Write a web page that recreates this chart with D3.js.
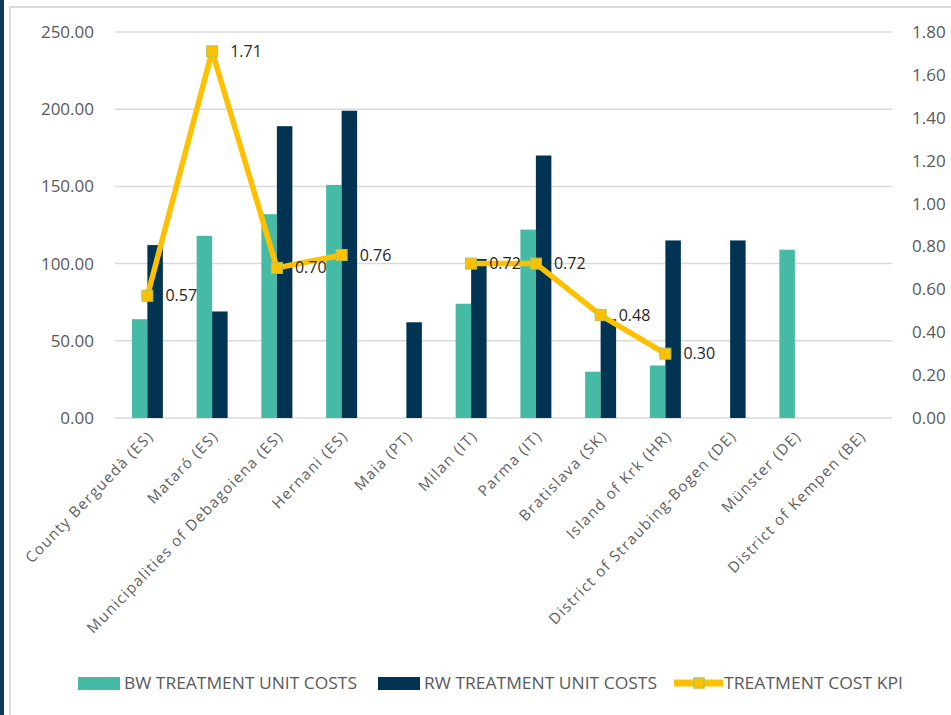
<!DOCTYPE html>
<html>
<head>
<meta charset="utf-8">
<script src="https://cdn.jsdelivr.net/npm/d3@7"></script>
<style>
  html, body { margin: 0; padding: 0; background: #fff; }
  svg { display: block; font-family: "Open Sans", sans-serif; }
</style>
</head>
<body>
<div id="chart"></div>
<script>
// data
const categories = [
  "County Berguedà (ES)", "Mataró (ES)", "Municipalities of Debagoiena (ES)",
  "Hernani (ES)", "Maia (PT)", "Milan (IT)", "Parma (IT)", "Bratislava (SK)",
  "Island of Krk (HR)", "District of Straubing-Bogen (DE)", "Münster (DE)",
  "District of Kempen (BE)"
];
const bwCosts = [64, 118, 132, 151, null, 74, 122, 30, 34, null, 109, null];
const rwCosts = [112, 69, 189, 199, 62, 103, 170, 64, 115, 115, null, null];
const kpi = [0.57, 1.71, 0.70, 0.76, null, 0.72, 0.72, 0.48, 0.30, null, null, null];
const leftTicks = [0, 50, 100, 150, 200, 250];
const rightTicks = [0, 0.2, 0.4, 0.6, 0.8, 1.0, 1.2, 1.4, 1.6, 1.8];
const seriesNames = ["BW TREATMENT UNIT COSTS", "RW TREATMENT UNIT COSTS", "TREATMENT COST KPI"];

const W = 951, H = 715;
const colBW = "#45bba5", colRW = "#003452", colKPI = "#ffc000";

const svg = d3.select("#chart").append("svg")
  .attr("width", W).attr("height", H);

// frame
svg.append("rect").attr("x", 0).attr("y", 0).attr("width", 4).attr("height", H).attr("fill", "#0b3a5a");
svg.append("rect").attr("x", 10).attr("y", 7).attr("width", W).attr("height", H)
  .attr("fill", "#fff").attr("stroke", "#dcdcdc").attr("stroke-width", 2);

const x = d3.scaleBand().domain(categories).range([115, 892]);
const inner = d3.scaleBand().domain(["bw", "rw"]).range([0, 31]);
const yL = d3.scaleLinear().domain([0, 250]).range([418, 32]);
const yR = d3.scaleLinear().domain([0, 1.8]).range([418, 32]);
const off = (x.bandwidth() - 31) / 2;

// gridlines
svg.append("g").selectAll("line").data(leftTicks).join("line")
  .attr("x1", 115).attr("x2", 892)
  .attr("y1", d => yL(d)).attr("y2", d => yL(d))
  .attr("stroke", "#d9d9d9").attr("stroke-width", 1.5);

// left axis labels
svg.append("g").selectAll("text").data(leftTicks).join("text")
  .attr("x", 94).attr("y", d => yL(d)).attr("dy", "0.35em")
  .attr("text-anchor", "end").attr("font-size", 17).attr("fill", "#595959")
  .text(d => d.toFixed(2));

// right axis labels
svg.append("g").selectAll("text").data(rightTicks).join("text")
  .attr("x", 912).attr("y", d => yR(d)).attr("dy", "0.35em")
  .attr("text-anchor", "start").attr("font-size", 17).attr("fill", "#595959")
  .text(d => d.toFixed(2));

// bars
const rows = categories.map((c, i) => ({ c, bw: bwCosts[i], rw: rwCosts[i], k: kpi[i] }));
const bars = svg.append("g");
bars.selectAll("rect.bw").data(rows.filter(d => d.bw != null)).join("rect")
  .attr("class", "bw")
  .attr("x", d => x(d.c) + off + inner("bw")).attr("width", inner.bandwidth())
  .attr("y", d => yL(d.bw)).attr("height", d => yL(0) - yL(d.bw))
  .attr("fill", colBW);
bars.selectAll("rect.rw").data(rows.filter(d => d.rw != null)).join("rect")
  .attr("class", "rw")
  .attr("x", d => x(d.c) + off + inner("rw")).attr("width", inner.bandwidth())
  .attr("y", d => yL(d.rw)).attr("height", d => yL(0) - yL(d.rw))
  .attr("fill", colRW);

// x labels
svg.append("g").selectAll("text").data(categories).join("text")
  .attr("transform", d => `translate(${x(d) + x.bandwidth() / 2 + 7},${437}) rotate(-46)`)
  .attr("text-anchor", "end").attr("font-size", 15).attr("letter-spacing", 1.3)
  .attr("fill", "#606060")
  .text(d => d);

// KPI line
const cx = d => x(d.c) + x.bandwidth() / 2;
const line = d3.line().defined(d => d.k != null).x(cx).y(d => yR(d.k));
svg.append("path").datum(rows).attr("d", line)
  .attr("fill", "none").attr("stroke", colKPI).attr("stroke-width", 5.5)
  .attr("stroke-linejoin", "round");

const pts = rows.filter(d => d.k != null);
svg.append("g").selectAll("rect").data(pts).join("rect")
  .attr("x", d => cx(d) - 5.5).attr("y", d => yR(d.k) - 5.5)
  .attr("width", 11).attr("height", 11)
  .attr("fill", colKPI).attr("stroke", "#b5c254").attr("stroke-width", 1);
svg.append("g").selectAll("text").data(pts).join("text")
  .attr("x", d => cx(d) + 18).attr("y", d => yR(d.k)).attr("dy", "0.35em")
  .attr("font-size", 16).attr("fill", "#262626")
  .text(d => d.k.toFixed(2));

// legend
const lg = svg.append("g").attr("font-size", 16).attr("fill", "#595959");
lg.append("rect").attr("x", 78).attr("y", 677).attr("width", 42).attr("height", 13).attr("fill", colBW);
lg.append("text").attr("x", 124).attr("y", 683).attr("dy", "0.35em")
  .attr("textLength", 233).attr("lengthAdjust", "spacingAndGlyphs").text(seriesNames[0]);
lg.append("rect").attr("x", 378).attr("y", 677).attr("width", 42).attr("height", 13).attr("fill", colRW);
lg.append("text").attr("x", 424).attr("y", 683).attr("dy", "0.35em")
  .attr("textLength", 233).attr("lengthAdjust", "spacingAndGlyphs").text(seriesNames[1]);
lg.append("line").attr("x1", 674).attr("x2", 723).attr("y1", 683).attr("y2", 683)
  .attr("stroke", colKPI).attr("stroke-width", 7);
lg.append("rect").attr("x", 694).attr("y", 678).attr("width", 10).attr("height", 10)
  .attr("fill", colKPI).attr("stroke", "#b5c254").attr("stroke-width", 1.5);
lg.append("text").attr("x", 724).attr("y", 683).attr("dy", "0.35em")
  .attr("textLength", 179).attr("lengthAdjust", "spacingAndGlyphs").text(seriesNames[2]);
</script>
</body>
</html>
